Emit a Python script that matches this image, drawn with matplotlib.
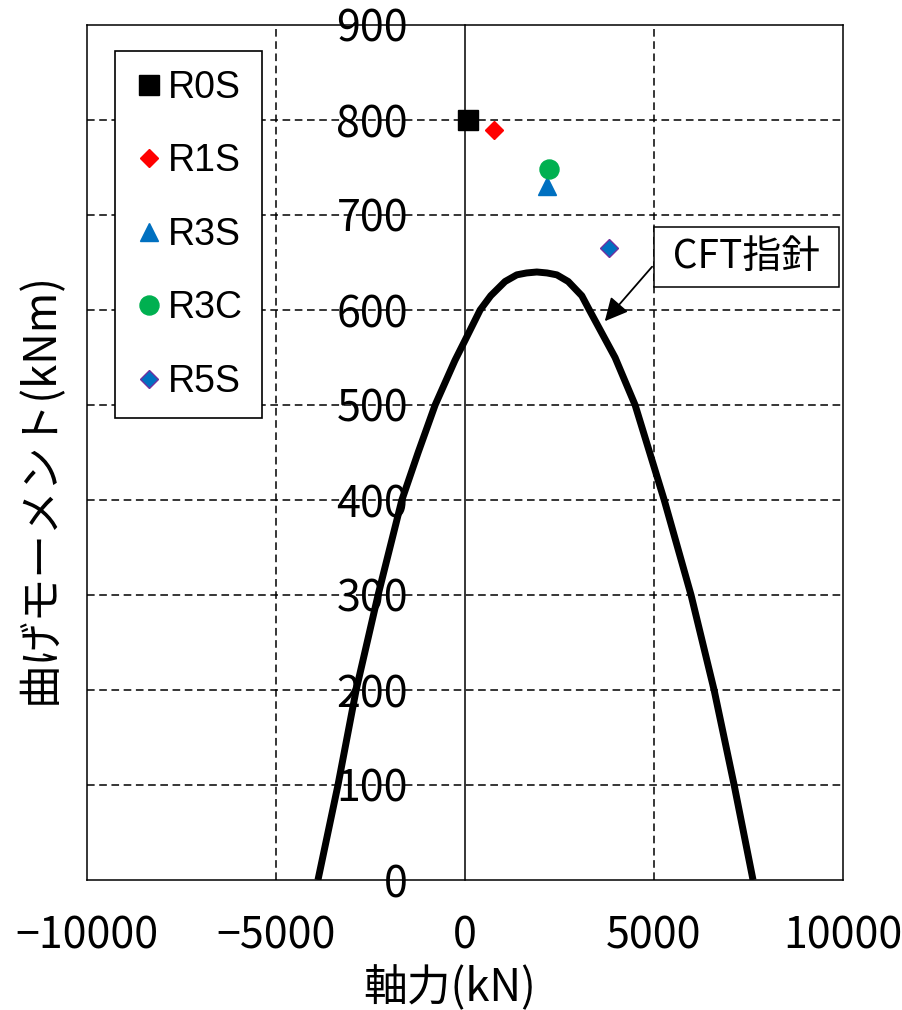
import matplotlib

matplotlib.use("Agg")

import matplotlib.pyplot as plt
from matplotlib.lines import Line2D

JP = ["Noto Sans CJK JP", "DejaVu Sans"]
plt.rcParams["font.family"] = JP
plt.rcParams["axes.unicode_minus"] = True

# CFT interaction curve (axial force kN, moment kNm)
curve_n = [-3890, -3360, -2880, -2300, -1670, -1240, -790, -265, 0, 400, 680, 1060,
           1370, 1630, 1900, 2170, 2430, 2730, 3090, 3290, 3970, 4500, 5270, 5980,
           6590, 7120, 7620]
curve_m = [0, 100, 200, 300, 400, 450, 500, 547, 568, 600, 615, 630,
           637, 639, 640, 639, 637, 630, 615, 600, 550, 500, 400, 300,
           200, 100, 0]

# test specimens
spec_names = ["R0S", "R1S", "R3S", "R3C", "R5S"]
spec_n = [80, 770, 2180, 2220, 3810]
spec_m = [800, 789, 731, 748, 665]

x_ticks = [-10000, -5000, 0, 5000, 10000]
y_ticks = [0, 100, 200, 300, 400, 500, 600, 700, 800, 900]

marker_styles = {
    "R0S": dict(marker="s", ms=14, mfc="black", mec="black"),
    "R1S": dict(marker="D", ms=9.2, mfc="#FF0000", mec="#FF0000"),
    "R3S": dict(marker="^", ms=13, mfc="#0070C0", mec="#0070C0"),
    "R3C": dict(marker="o", ms=13.7, mfc="#00B050", mec="#00B050"),
    "R5S": dict(marker="D", ms=9.2, mfc="#0070C0", mec="#7030A0", mew=1.0),
}

fig = plt.figure(figsize=(9.02, 10.10), dpi=100)
ax = fig.add_axes([87 / 902, 130 / 1010, 756 / 902, 855 / 1010])
ax.set_xlim(-10000, 10000)
ax.set_ylim(0, 900)

# dashed grid
for y in y_ticks[1:-1]:
    ax.axhline(y, color="black", lw=1.1, ls=(0, (5, 3)), zorder=1)
for x in [-5000, 5000]:
    ax.axvline(x, color="black", lw=1.1, ls=(0, (5, 3)), zorder=1)

ax.plot(curve_n, curve_m, color="black", lw=5, solid_capstyle="butt",
        solid_joinstyle="round", zorder=3)

for name, n, m in zip(spec_names, spec_n, spec_m):
    ax.plot([n], [m], ls="none", label=name, zorder=4, **marker_styles[name])

# y axis sits on N = 0, like the Excel original
ax.spines["left"].set_position(("data", 0))
for side in ["left", "right", "top", "bottom"]:
    ax.spines[side].set_linewidth(1.1)
ax.add_line(Line2D([0, 0], [0, 1], transform=ax.transAxes, color="black",
                   lw=1.1, clip_on=False))

ax.set_xticks(x_ticks)
ax.set_yticks(y_ticks)
ax.tick_params(axis="both", length=0, labelsize=31)
ax.tick_params(axis="x", pad=25)
ax.tick_params(axis="y", pad=41)

ax.set_xlabel("軸力(kN)", fontsize=31.5, va="center")
ax.xaxis.set_label_coords(0.48, -0.127)
ax.set_ylabel("曲げモーメント(kNm)", fontsize=31.5, va="center")
ax.yaxis.set_label_coords(-0.062, 0.458)

ax.annotate(
    " CFT指針 ",
    xy=(3650, 586),
    xytext=(7450, 656),
    fontsize=28,
    ha="center",
    va="center",
    bbox=dict(boxstyle="square,pad=0.25", fc="white", ec="black", lw=1.1),
    arrowprops=dict(arrowstyle="-|>", color="black", lw=1.3, mutation_scale=35,
                    relpos=(0, 0.6)),
    zorder=5,
)

leg = ax.legend(
    loc="upper left",
    bbox_to_anchor=(0.037, 0.9696),
    borderaxespad=0,
    fancybox=False,
    edgecolor="black",
    framealpha=1,
    prop={"family": "Liberation Sans", "size": 27},
    labelspacing=1.0,
    borderpad=0.5,
    handlelength=0.8,
    handletextpad=0.12,
    numpoints=1,
)
leg.get_frame().set_linewidth(1.2)

fig.savefig("out.png", dpi=100, facecolor="white")
